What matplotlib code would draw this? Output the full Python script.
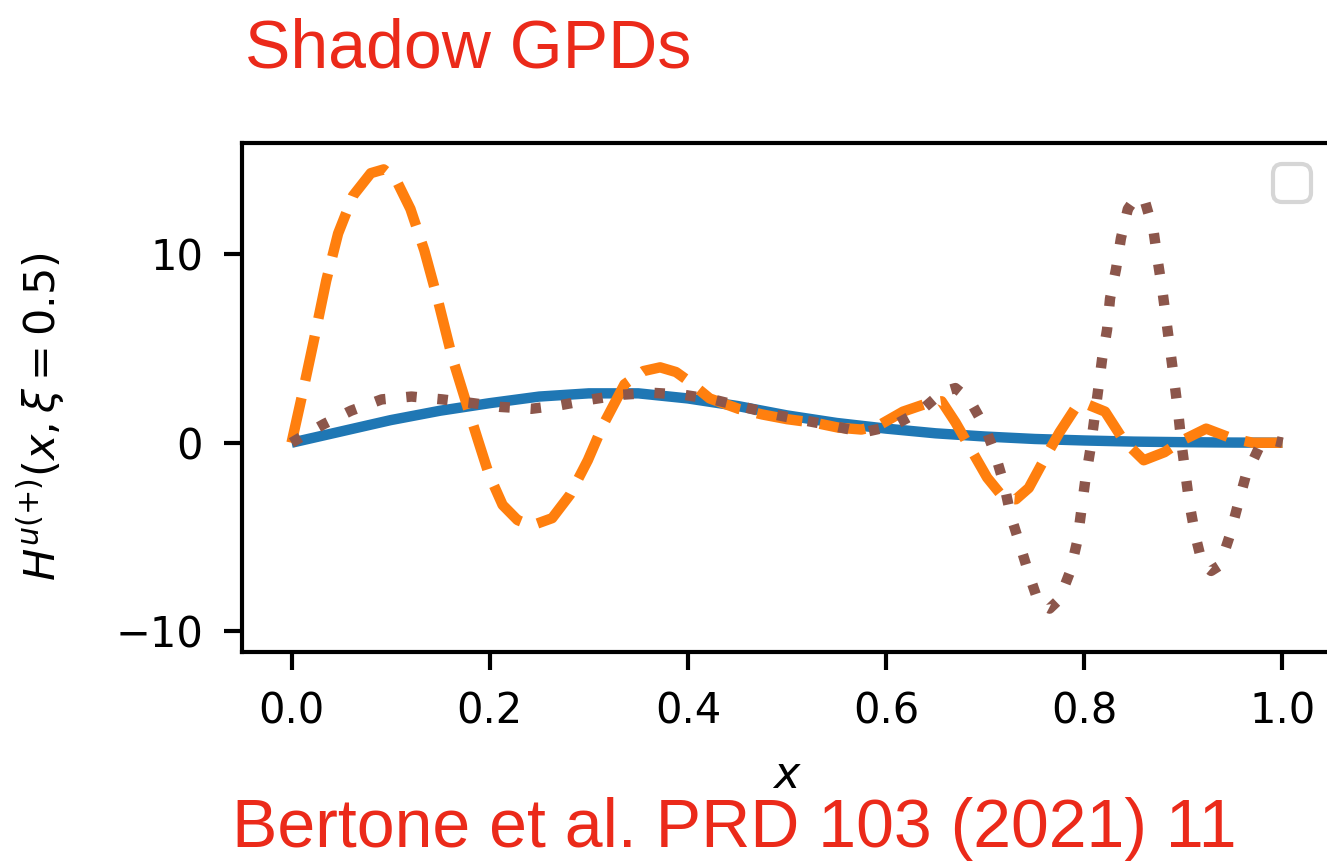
import numpy as np
import matplotlib.pyplot as plt

# blue solid curve
x_blue = [0, 0.05, 0.1, 0.15, 0.2, 0.25, 0.3, 0.35, 0.4, 0.45, 0.5, 0.55,
          0.6, 0.65, 0.7, 0.75, 0.8, 0.85, 0.9, 0.95, 1.0]
y_blue = [0, 0.6, 1.2, 1.7, 2.1, 2.45, 2.62, 2.62, 2.35, 1.95, 1.45, 1.05,
          0.75, 0.5, 0.33, 0.2, 0.12, 0.06, 0.03, 0.01, 0]

# orange dashed curve
x_orange = [0, 0.011, 0.022, 0.035, 0.047, 0.062, 0.080, 0.093, 0.105, 0.120,
            0.134, 0.148, 0.162, 0.177, 0.188, 0.199, 0.213, 0.228, 0.242, 0.263,
            0.281, 0.299, 0.314, 0.336, 0.355, 0.372, 0.388, 0.400, 0.422, 0.451,
            0.475, 0.500, 0.529, 0.552, 0.575, 0.592, 0.617, 0.642, 0.656, 0.670,
            0.684, 0.702, 0.719, 0.731, 0.744, 0.761, 0.775, 0.793, 0.800, 0.821,
            0.840, 0.860, 0.881, 0.898, 0.923, 0.948, 0.970, 1.0]
y_orange = [0, 2.6, 5.3, 8.6, 11.1, 13.1, 14.3, 14.5, 14.0, 12.4,
            10.2, 7.5, 4.55, 2.0, 0.16, -1.65, -3.3, -4.1, -4.4, -4.0,
            -2.76, -0.93, 0.9, 3.1, 3.8, 4.0, 3.75, 3.3, 2.35, 1.8,
            1.5, 1.25, 1.05, 0.8, 0.7, 0.9, 1.65, 2.1, 2.2, 1.08,
            -0.2, -1.85, -2.95, -3.0, -2.4, -0.75, 0.55, 2.0, 2.1, 1.65,
            0.1, -0.93, -0.5, 0.1, 0.75, 0.25, 0.0, 0]

# brown dotted curve
x_brown = [0, 0.016, 0.033, 0.060, 0.091, 0.121, 0.152, 0.183, 0.211, 0.242,
           0.272, 0.303, 0.334, 0.364, 0.395, 0.425, 0.456, 0.487, 0.516, 0.546,
           0.577, 0.607, 0.635, 0.657, 0.670, 0.684, 0.700, 0.710, 0.719, 0.726,
           0.735, 0.744, 0.754, 0.765, 0.775, 0.786, 0.793, 0.797, 0.801, 0.806,
           0.810, 0.814, 0.818, 0.823, 0.826, 0.832, 0.837, 0.844, 0.852, 0.861,
           0.870, 0.874, 0.879, 0.883, 0.887, 0.891, 0.895, 0.898, 0.902, 0.906,
           0.912, 0.919, 0.928, 0.937, 0.947, 0.955, 0.963, 0.976, 0.988, 1.0]
y_brown = [0, 0.5, 1.0, 1.7, 2.3, 2.45, 2.3, 2.1, 1.9, 1.8,
           2.0, 2.3, 2.55, 2.65, 2.55, 2.3, 1.9, 1.5, 1.2, 0.9,
           0.55, 0.9, 1.7, 2.7, 2.9, 2.3, 0.8, -0.6, -2.2, -3.9,
           -5.4, -6.95, -8.5, -8.8, -8.3, -6.8, -5.2, -3.6, -2.0, -0.4,
           1.2, 2.8, 4.45, 6.0, 7.65, 9.2, 10.85, 12.4, 13.0, 12.85,
           11.2, 9.7, 8.0, 6.4, 4.8, 3.2, 1.5, 0.0, -1.6, -3.2,
           -4.9, -6.4, -6.8, -6.5, -4.9, -3.3, -1.75, -0.3, 0.15, 0]

x_ticks = [0.0, 0.2, 0.4, 0.6, 0.8, 1.0]
y_ticks = [-10, 0, 10]

red = "#EB2A1A"

fig = plt.figure(figsize=(13.27, 8.66), dpi=100)
ax = fig.add_axes([242 / 1327, 1 - 652 / 866, 1090 / 1327, 509 / 866])

ax.plot(x_blue, y_blue, color="#1f77b4", lw=7.5, solid_capstyle="butt")
ax.plot(x_orange, y_orange, color="#ff7f0e", lw=7.5, dashes=(4.4, 1.7))
ax.plot(x_brown, y_brown, color="#8c564b", lw=7.5, dashes=(1, 2.0))

ax.set_xlim(-0.05, 1.05)
ax.set_ylim(-11.1, 15.9)
ax.set_xticks(x_ticks)
ax.set_xticklabels([f"{v:.1f}" for v in x_ticks])
ax.set_yticks(y_ticks)
ax.set_yticklabels(["\u221210", "0", "10"])
ax.tick_params(labelsize=30, length=13, width=3, pad=15)
for s in ax.spines.values():
    s.set_linewidth(3)

ax.set_xlabel(r"$x$", fontsize=32, labelpad=15)
ax.set_ylabel(r"$H^{u(+)}(x, \xi = 0.5)$", fontsize=31)
ax.yaxis.set_label_coords(-0.161, 0.462)

leg = ax.legend(handles=[], loc="upper right", fontsize=34, borderaxespad=0.45)
leg.get_frame().set_linewidth(3)

fig.text(245 / 1327, 1 - 68 / 866, "Shadow GPDs", color=red, fontsize=49,
         family="Liberation Sans", va="baseline")
fig.text(232 / 1327, 1 - 847 / 866, "Bertone et al. PRD 103 (2021) 11", color=red,
         fontsize=49, family="Liberation Sans", va="baseline")

fig.savefig("out.png", dpi=100)
